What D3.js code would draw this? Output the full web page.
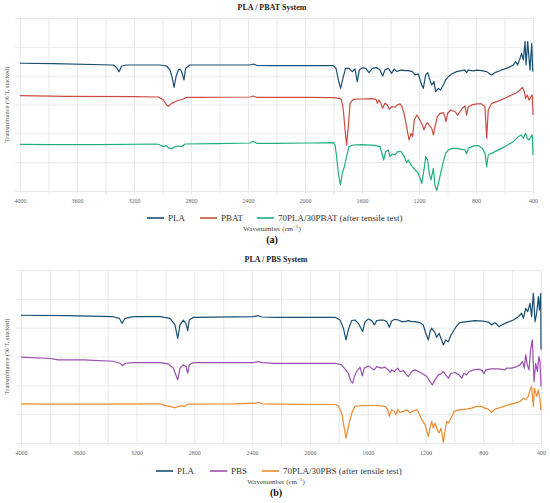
<!DOCTYPE html>
<html lang="en">
<head>
<meta charset="UTF-8">
<title>PLA / PBAT and PLA / PBS FTIR</title>
<style>
  html, body { margin: 0; padding: 0; background: #fff; overflow: hidden; }
  svg { display: block; font-family: "Liberation Serif", "Times New Roman", serif; }
  .grid line { stroke: #e3e3e3; stroke-width: 0.8; }
  .grid path { display: none; }
  .ticklbl text { fill: #666; font-size: 6px; }
  .ticklbl path, .ticklbl line { display: none; }
</style>
</head>
<body>
<svg id="chart" width="550" height="503"></svg>
<script src="https://cdn.jsdelivr.net/npm/d3@7"></script>
<script>
// ---- data: [wavenumber cm-1, transmittance (% T, stacked)] ----
const xTicks = [4000, 3600, 3200, 2800, 2400, 2000, 1600, 1200, 800, 400];

const plaA = [[4000,88.6],[3766,88.3],[3345,87.4],[3322,85.6],[3305,82.8],[3287,86.7],[3252,87.4],[3018,87.4],[2971,86.7],[2947,83.9],[2931,78.2],[2919,71.9],[2905,79.3],[2889,83.9],[2877,84.6],[2866,82.8],[2849,77.0],[2838,85.1],[2807,87.4],[2386,87.4],[2363,88.1],[2339,87.2],[2211,86.9],
  [1977,86.9],[1801,86.9],[1782,85.1],[1766,77.0],[1750,71.2],[1731,79.3],[1715,85.1],[1691,85.1],[1668,82.8],[1649,84.6],[1633,75.9],[1619,83.9],[1598,85.6],[1574,85.1],[1551,82.1],[1527,85.1],[1497,85.6],[1474,83.9],[1455,79.8],[1439,83.9],[1415,85.1],[1392,81.6],[1375,84.6],[1357,83.0],[1340,83.5],[1322,83.9],[1298,83.5],[1275,83.5],[1247,82.8],[1228,80.5],[1205,81.2],[1181,73.5],[1170,71.2],[1153,80.5],[1139,82.1],[1123,77.0],[1111,73.5],[1095,75.9],[1083,68.9],[1064,71.2],[1050,70.1],[1029,73.5],[1013,77.0],[994,79.3],[971,81.2],[936,82.8],[901,83.5],[877,83.9],[866,82.1],[854,83.9],[819,83.3],[795,83.9],[760,83.5],[725,82.8],[702,81.2],[690,80.5],[667,82.1],[620,83.9],[573,85.6],[538,87.4],[522,89.7],[508,87.4],[491,92.0],[480,95.5],[468,90.9],[456,103.6],[449,87.4],[437,103.6],[428,92.0],[421,83.9],[409,102.4],[402,83.9],[400,82.8]];

const pbat = [[4000,66.1],[3673,65.7],[3205,65.5],[3029,65.2],[2994,63.1],[2971,59.7],[2959,58.7],[2936,60.8],[2901,62.4],[2877,63.1],[2854,63.8],[2831,65.0],[2737,65.0],[2386,65.2],[2363,65.9],[2339,65.0],[2211,65.0],
  [1977,65.0],[1801,64.8],[1754,64.3],[1743,63.1],[1731,56.2],[1719,42.3],[1708,31.9],[1696,44.6],[1684,60.8],[1661,63.6],[1602,63.8],[1532,64.1],[1502,63.6],[1492,60.8],[1481,63.1],[1467,60.8],[1455,57.4],[1439,60.8],[1422,59.7],[1408,56.7],[1392,58.5],[1368,58.1],[1352,59.7],[1333,60.4],[1322,59.0],[1305,53.9],[1287,44.6],[1270,35.4],[1256,40.0],[1245,37.7],[1233,49.3],[1216,52.7],[1200,50.4],[1181,47.0],[1165,42.3],[1153,45.8],[1142,47.4],[1130,45.8],[1111,43.5],[1099,38.9],[1088,44.6],[1071,51.6],[1053,53.9],[1029,54.4],[1018,51.6],[1011,48.1],[999,53.9],[976,56.2],[947,55.0],[929,52.7],[912,55.0],[896,57.4],[877,59.0],[866,52.7],[854,58.5],[830,59.7],[795,60.4],[760,60.4],[737,58.5],[725,36.6],[714,56.2],[690,60.8],[655,62.0],[597,64.3],[550,66.6],[515,68.2],[491,70.1],[475,71.9],[461,68.9],[452,64.3],[440,66.6],[428,63.1],[414,65.5],[405,66.6],[400,52.7]];

const blendPBAT = [[4000,32.4],[3789,32.2],[3439,32.2],[3041,32.6],[3018,31.9],[2994,30.8],[2975,31.5],[2959,30.1],[2936,29.2],[2912,30.8],[2889,31.2],[2866,30.8],[2842,32.6],[2620,32.9],[2386,33.3],[2363,34.5],[2339,33.1],[2211,33.1],
  [1977,33.3],[1801,33.5],[1789,31.9],[1778,23.8],[1766,12.3],[1752,4.2],[1738,12.3],[1724,16.9],[1708,23.8],[1691,30.8],[1661,31.9],[1602,32.2],[1509,31.7],[1474,30.8],[1457,25.0],[1448,21.5],[1434,27.3],[1415,28.5],[1404,23.8],[1387,25.7],[1368,25.0],[1350,27.3],[1326,27.3],[1303,23.8],[1287,19.7],[1275,21.5],[1256,18.1],[1228,14.6],[1205,12.3],[1181,5.3],[1165,14.6],[1153,23.8],[1139,21.5],[1128,12.3],[1116,7.7],[1099,15.7],[1088,4.2],[1076,0.3],[1064,5.3],[1048,12.3],[1029,20.4],[1013,26.1],[994,28.5],[966,29.6],[936,29.6],[901,28.9],[877,28.5],[866,25.7],[854,29.6],[830,30.8],[807,31.5],[784,31.5],[756,29.6],[737,26.1],[725,16.9],[714,25.0],[667,27.3],[597,30.8],[538,34.2],[503,37.7],[484,38.9],[468,36.6],[452,40.0],[440,36.6],[428,35.4],[414,37.7],[405,38.9],[400,25.0]];

const plaB = [[4000,88.6],[3684,88.3],[3361,87.6],[3319,86.5],[3301,83.0],[3280,86.5],[3222,87.6],[3038,87.6],[2968,86.5],[2934,81.9],[2915,72.6],[2899,81.9],[2876,85.3],[2858,83.0],[2846,78.0],[2835,85.3],[2807,87.2],[2392,87.6],[2357,88.3],[2334,87.4],[2242,87.2],
  [1826,87.2],[1791,85.3],[1768,79.6],[1750,71.5],[1734,78.4],[1711,84.9],[1688,85.3],[1665,83.0],[1635,77.3],[1618,84.2],[1595,86.0],[1572,84.9],[1554,81.9],[1538,84.9],[1515,85.3],[1491,85.3],[1468,84.2],[1450,80.3],[1434,84.6],[1411,85.8],[1388,85.3],[1365,84.2],[1342,84.2],[1318,84.9],[1295,84.2],[1272,84.2],[1238,83.5],[1215,81.9],[1198,76.1],[1180,71.5],[1168,77.3],[1157,79.6],[1138,77.3],[1122,73.3],[1106,76.1],[1088,71.5],[1076,68.0],[1060,71.5],[1042,70.3],[1023,74.9],[1002,78.4],[984,81.2],[961,83.5],[915,84.2],[857,84.9],[799,84.6],[765,83.9],[742,81.9],[718,83.5],[691,80.7],[672,81.9],[638,83.5],[591,85.3],[557,87.6],[534,90.0],[522,86.5],[506,93.4],[492,91.1],[476,96.9],[465,87.6],[453,103.8],[441,84.2],[430,90.0],[418,101.5],[411,92.3],[402,103.8],[400,64.6]];

const pbs = [[4000,59.5],[3799,58.6],[3742,57.6],[3568,57.6],[3361,56.7],[3315,55.3],[3296,53.7],[3280,55.3],[3222,55.8],[3038,55.8],[2980,54.9],[2945,51.9],[2915,43.8],[2899,51.9],[2876,54.2],[2858,53.0],[2846,48.4],[2835,54.2],[2807,55.8],[2392,55.8],[2357,56.5],[2334,55.8],[2242,55.3],
  [1826,55.3],[1780,54.2],[1752,50.7],[1734,48.4],[1715,42.6],[1704,41.5],[1692,46.1],[1676,49.6],[1653,52.6],[1637,46.6],[1623,51.9],[1595,53.5],[1572,51.9],[1554,50.7],[1538,53.0],[1503,51.9],[1480,52.6],[1457,50.7],[1445,48.9],[1434,50.7],[1415,49.6],[1392,51.9],[1376,49.6],[1353,50.2],[1330,47.3],[1318,46.1],[1295,49.6],[1272,50.7],[1249,49.6],[1226,48.4],[1191,46.1],[1168,42.6],[1152,40.3],[1134,43.8],[1111,47.3],[1092,47.9],[1076,49.6],[1060,47.3],[1042,45.0],[1023,48.4],[995,48.9],[968,47.3],[949,45.0],[933,48.4],[915,47.3],[898,49.6],[868,50.7],[829,51.2],[806,50.2],[795,48.0],[783,50.7],[742,51.4],[695,51.4],[649,50.7],[638,51.9],[603,51.9],[568,53.0],[545,54.2],[529,56.5],[515,51.9],[506,61.1],[495,54.2],[483,50.7],[472,64.6],[460,71.5],[448,42.6],[437,55.3],[425,49.6],[414,60.0],[407,56.5],[400,39.2]];

const blendPBS = [[4000,27.2],[3799,27.0],[3453,27.0],[3038,27.2],[3015,26.3],[2992,25.8],[2968,25.4],[2934,24.4],[2911,25.4],[2888,25.8],[2865,25.4],[2842,27.0],[2530,27.2],[2368,27.7],[2357,28.3],[2334,27.2],[2242,27.0],
  [1826,26.7],[1803,25.8],[1780,20.7],[1764,11.5],[1750,3.4],[1738,9.2],[1722,16.2],[1706,21.9],[1688,25.4],[1642,26.0],[1549,26.0],[1480,25.4],[1461,23.1],[1450,18.5],[1434,23.1],[1415,21.9],[1404,19.6],[1392,23.1],[1376,21.2],[1353,21.9],[1330,23.1],[1307,21.2],[1291,21.9],[1261,23.1],[1245,20.7],[1226,16.2],[1203,12.7],[1180,4.6],[1166,11.5],[1157,15.0],[1145,10.4],[1134,13.8],[1118,9.2],[1106,6.9],[1092,10.4],[1076,0.4],[1065,8.1],[1053,15.0],[1042,13.8],[1023,17.3],[1002,21.9],[984,22.6],[949,23.1],[915,23.5],[880,24.2],[845,25.4],[811,25.4],[788,24.2],[765,23.5],[742,21.2],[718,23.5],[672,24.9],[626,26.5],[580,27.7],[545,28.8],[522,31.1],[506,30.0],[488,32.3],[476,36.9],[465,39.2],[453,25.4],[446,38.1],[430,32.3],[418,36.9],[407,30.0],[400,22.6]];

const namesA = ['PLA', 'PBAT', '70PLA/30PBAT (after tensile test)'];
const namesB = ['PLA', 'PBS', '70PLA/30PBS (after tensile test)'];
const colorsA = ['#1b4f72', '#cc4b40', '#1fae80'];
const colorsB = ['#1b4f72', '#9b4fae', '#ee8a2e'];

const svg = d3.select('#chart');

// draws one stacked-spectrum panel
function panel(opt) {
  const x = d3.scaleLinear().domain([4000, 400]).range([opt.left, opt.right]);
  const y = d3.scaleLinear().domain([0, 120]).range([opt.bottom, opt.top]);
  const g = svg.append('g');

  // vertical grid every 200 cm-1 (runs a little past the bottom)
  g.append('g').attr('class', 'grid')
    .attr('transform', `translate(0,${opt.top})`)
    .call(d3.axisBottom(x).tickValues(d3.range(4000, 399, -200))
      .tickSize(opt.bottom - opt.top + 3).tickFormat(''));

  // horizontal grid
  g.append('g').attr('class', 'grid')
    .attr('transform', `translate(${opt.left - 5},0)`)
    .call(d3.axisRight(y).ticks(6).tickSize(opt.right - opt.left + 5).tickFormat(''));

  // tick labels
  g.append('g').attr('class', 'ticklbl')
    .attr('transform', `translate(0,${opt.bottom + 3})`)
    .call(d3.axisBottom(x).tickValues(xTicks).tickSize(0).tickPadding(5).tickFormat(d3.format('d')))
    .attr('font-family', null);

  const line = d3.line().x(d => x(d[0])).y(d => y(d[1]));
  opt.series.forEach((s, i) => {
    g.append('path').datum(s)
      .attr('fill', 'none')
      .attr('stroke', opt.colors[i])
      .attr('stroke-width', 1.2)
      .attr('stroke-linejoin', 'round')
      .attr('d', line);
  });

  // title
  svg.append('text').attr('x', opt.titleX).attr('y', opt.top - 8)
    .attr('text-anchor', 'middle').attr('font-weight', 'bold')
    .attr('font-size', 8).attr('fill', '#222').text(opt.title);

  // y label
  svg.append('text')
    .attr('transform', `translate(9,${(opt.top + opt.bottom) / 2}) rotate(-90)`)
    .attr('text-anchor', 'middle').attr('font-size', 6.5).attr('fill', '#555')
    .text('Transmittance (% T, stacked)');

  // legend
  const leg = svg.append('g');
  opt.legX.forEach((lx, i) => {
    leg.append('line').attr('x1', lx).attr('x2', lx + 17)
      .attr('y1', opt.legY).attr('y2', opt.legY)
      .attr('stroke', opt.colors[i]).attr('stroke-width', 1.6);
    leg.append('text').attr('x', lx + 21).attr('y', opt.legY + 3)
      .attr('font-size', 9).attr('fill', '#333').text(opt.names[i]);
  });

  const xl = svg.append('text').attr('x', opt.titleX).attr('y', opt.legY + 13)
    .attr('text-anchor', 'middle').attr('font-size', 7).attr('fill', '#444')
    .text('Wavenumber (cm');
  xl.append('tspan').attr('font-size', 5).attr('dy', -3).text('−1');
  xl.append('tspan').attr('dy', 3).text(')');

  svg.append('text').attr('x', opt.titleX).attr('y', opt.legY + 25)
    .attr('text-anchor', 'middle').attr('font-weight', 'bold')
    .attr('font-size', 10).attr('fill', '#111').text(opt.tag);
}

panel({
  left: 20, right: 533, top: 18, bottom: 191,
  series: [plaA, pbat, blendPBAT], colors: colorsA, names: namesA,
  title: 'PLA / PBAT System', titleX: 272, tag: '(a)',
  legY: 218, legX: [147, 200, 257]
});

panel({
  left: 21, right: 541, top: 270, bottom: 443,
  series: [plaB, pbs, blendPBS], colors: colorsB, names: namesB,
  title: 'PLA / PBS System', titleX: 276, tag: '(b)',
  legY: 471, legX: [156, 210, 262]
});
</script>
</body>
</html>
